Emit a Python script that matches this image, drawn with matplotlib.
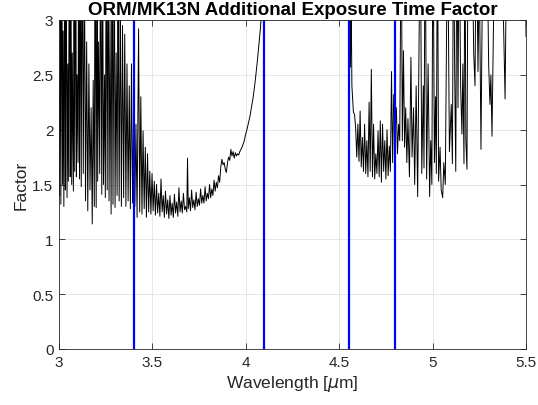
import matplotlib
matplotlib.use("Agg")
import matplotlib.pyplot as plt

# wavelength [um] and exposure time factor
wl_a = [3.000, 3.003, 3.007, 3.010, 3.015, 3.019, 3.022, 3.026, 3.031, 3.034,
        3.038, 3.043, 3.047, 3.050, 3.056, 3.060, 3.063, 3.068, 3.071, 3.077,
        3.081, 3.084, 3.090, 3.093, 3.097, 3.102, 3.105, 3.110, 3.114, 3.119,
        3.124, 3.130, 3.136, 3.142, 3.148, 3.154, 3.160, 3.166, 3.172, 3.178,
        3.183, 3.189, 3.193, 3.199, 3.204, 3.207, 3.212, 3.218, 3.222, 3.229,
        3.233, 3.238, 3.244, 3.248, 3.253, 3.258, 3.263, 3.268, 3.273, 3.279,
        3.284, 3.289, 3.296, 3.300, 3.306, 3.311, 3.316, 3.322, 3.328, 3.334,
        3.340, 3.346, 3.352, 3.358, 3.364, 3.370, 3.376, 3.382, 3.388, 3.394,
        3.400, 3.406, 3.412, 3.418, 3.426, 3.432, 3.438, 3.444, 3.450, 3.456,
        3.462, 3.468, 3.474, 3.480, 3.486, 3.492, 3.498, 3.504, 3.510, 3.516]
fac_a = [2.45, 1.40, 4.0, 1.32, 4.0, 1.50, 2.90, 1.30, 4.0, 1.45,
         4.0, 1.38, 2.60, 1.53, 4.0, 1.57, 4.0, 1.50, 2.70, 1.44,
         4.0, 1.62, 4.0, 1.57, 2.50, 1.70, 4.0, 1.55, 4.0, 1.48,
         4.0, 1.60, 3.6, 1.35, 2.8, 1.26, 2.6, 1.45, 2.2, 1.14,
         2.45, 1.30, 4.0, 1.29, 4.0, 1.53, 2.80, 1.60, 4.0, 1.41,
         4.0, 1.50, 2.50, 1.38, 4.0, 1.45, 4.0, 1.35, 3.0, 1.23,
         4.0, 1.32, 4.0, 1.29, 2.70, 1.40, 3.5, 1.35, 3.2, 1.30,
         2.95, 1.38, 2.87, 1.30, 2.60, 1.35, 2.40, 1.28, 2.60, 1.33,
         2.20, 1.30, 2.05, 1.20, 2.92, 1.25, 2.30, 1.23, 1.99, 1.28,
         1.84, 1.20, 1.78, 1.25, 1.62, 1.23, 1.60, 1.26, 1.53, 1.22]

wl_b = [3.522, 3.528, 3.534, 3.540, 3.546, 3.552, 3.558, 3.564, 3.570, 3.576,
        3.582, 3.588, 3.594, 3.600, 3.606, 3.612, 3.618, 3.624, 3.630, 3.636,
        3.642, 3.648, 3.654, 3.660, 3.666, 3.672, 3.678, 3.684, 3.688, 3.692,
        3.698, 3.704, 3.710, 3.716, 3.722, 3.728, 3.734, 3.740, 3.746, 3.752,
        3.758, 3.764, 3.770, 3.776, 3.782, 3.788, 3.794, 3.800, 3.806, 3.812,
        3.818, 3.824, 3.830, 3.836, 3.842, 3.848]
fac_b = [1.50, 1.24, 1.42, 1.21, 1.55, 1.25, 1.40, 1.20, 1.44, 1.23,
         1.36, 1.19, 1.40, 1.22, 1.33, 1.20, 1.41, 1.24, 1.34, 1.21,
         1.47, 1.25, 1.35, 1.24, 1.42, 1.27, 1.30, 1.25, 1.74, 1.28,
         1.38, 1.26, 1.45, 1.29, 1.36, 1.27, 1.43, 1.30, 1.37, 1.31,
         1.46, 1.33, 1.40, 1.33, 1.48, 1.35, 1.42, 1.37, 1.50, 1.38,
         1.46, 1.40, 1.54, 1.44, 1.52, 1.47]

wl_c = [3.854, 3.860, 3.866, 3.872, 3.878, 3.884, 3.890, 3.896, 3.902, 3.908,
        3.914, 3.920, 3.926, 3.932, 3.938, 3.944, 3.950, 3.956, 3.962, 3.968,
        3.974, 3.980, 3.986, 3.992, 3.998, 4.006, 4.014, 4.022, 4.030, 4.038,
        4.046, 4.054, 4.062, 4.070, 4.078, 4.086, 4.094, 4.100, 4.200, 4.300,
        4.400, 4.500, 4.540]
fac_c = [1.58, 1.52, 1.66, 1.73, 1.68, 1.70, 1.64, 1.61, 1.70, 1.75,
         1.72, 1.82, 1.76, 1.80, 1.74, 1.79, 1.76, 1.78, 1.77, 1.80,
         1.82, 1.84, 1.87, 1.90, 1.95, 2.00, 2.06, 2.12, 2.20, 2.28,
         2.38, 2.50, 2.63, 2.78, 2.92, 3.10, 3.40, 3.80, 5.0, 6.0,
         6.0, 5.0, 4.0]

wl_d = [4.548, 4.552, 4.556, 4.560, 4.564, 4.568, 4.576, 4.582, 4.588, 4.594,
        4.600, 4.606, 4.612, 4.618, 4.624, 4.630, 4.636, 4.642, 4.648, 4.654,
        4.660, 4.666, 4.672, 4.678, 4.684, 4.690, 4.696, 4.702, 4.708, 4.714,
        4.720, 4.726, 4.732, 4.738, 4.744, 4.750, 4.756, 4.762, 4.768, 4.774,
        4.780, 4.786, 4.792]
fac_d = [4.5, 2.85, 3.5, 2.57, 3.2, 2.40, 2.16, 2.14, 2.02, 1.75,
         2.05, 1.71, 2.17, 1.66, 1.93, 1.62, 2.05, 1.60, 1.90, 1.57,
         2.25, 1.62, 2.55, 1.57, 2.05, 1.55, 1.78, 1.60, 1.99, 1.57,
         2.08, 1.52, 2.05, 1.62, 1.90, 1.55, 2.00, 1.58, 1.85, 1.62,
         2.53, 1.70, 2.32]

wl_e = [4.800, 4.806, 4.812, 4.818, 4.824, 4.832, 4.838, 4.844, 4.850, 4.856,
        4.862, 4.868, 4.876, 4.884, 4.890, 4.898, 4.904, 4.912, 4.920, 4.934,
        4.942, 4.950, 4.954, 4.960, 4.968, 4.976, 4.984, 4.990, 4.996, 5.002,
        5.010, 5.016, 5.020, 5.026, 5.032, 5.040, 5.046, 5.054, 5.060, 5.068,
        5.080, 5.090, 5.100, 5.106, 5.112, 5.118, 5.124, 5.130, 5.136, 5.142,
        5.150, 5.157, 5.162, 5.168, 5.173, 5.178, 5.184, 5.190, 5.200, 5.210,
        5.220, 5.227, 5.234, 5.243, 5.250, 5.259, 5.270, 5.280, 5.290, 5.300,
        5.307, 5.312, 5.318, 5.334, 5.350, 5.365, 5.377, 5.388, 5.398, 5.420,
        5.440, 5.460, 5.480, 5.495, 5.500]
fac_e = [2.00, 2.20, 1.78, 2.05, 1.90, 4.0, 1.90, 2.72, 1.84, 2.20,
         1.70, 2.10, 1.57, 2.66, 1.75, 2.20, 1.50, 2.40, 1.39, 4.0,
         1.60, 2.40, 1.65, 4.0, 1.55, 2.60, 1.39, 1.90, 1.50, 4.0,
         1.70, 2.30, 1.60, 4.0, 1.53, 1.84, 1.45, 1.38, 1.70, 1.50,
         4.0, 1.80, 2.23, 1.69, 4.0, 2.57, 1.62, 4.0, 2.20, 4.0,
         2.40, 1.96, 2.60, 1.69, 4.0, 1.90, 1.64, 4.0, 3.2, 4.0,
         2.70, 2.40, 4.0, 2.53, 3.5, 1.82, 4.0, 3.3, 4.0, 2.60,
         2.23, 2.50, 1.94, 4.0, 3.4, 4.0, 3.2, 2.28, 4.0, 4.5,
         3.6, 4.5, 3.8, 4.0, 2.85]

wavelength = wl_a + wl_b + wl_c + wl_d + wl_e
factor = fac_a + fac_b + fac_c + fac_d + fac_e

# band edges marked in blue
band_edges = [3.4, 4.1, 4.55, 4.8]

plt.rcParams['font.family'] = ['Liberation Sans', 'DejaVu Sans']

fig = plt.figure(figsize=(5.38, 4.06), dpi=100)
ax = fig.add_axes([59 / 538, 56 / 406, 467 / 538, 329 / 406])

ax.plot(wavelength, factor, color='black', lw=0.7)
for x in band_edges:
    ax.axvline(x, color='blue', lw=1.6)

ax.set_xlim(3, 5.5)
ax.set_ylim(0, 3)
ax.set_xticks([3, 3.5, 4, 4.5, 5, 5.5])
ax.set_xticklabels(['3', '3.5', '4', '4.5', '5', '5.5'])
ax.set_yticks([0, 0.5, 1, 1.5, 2, 2.5, 3])
ax.set_yticklabels(['0', '0.5', '1', '1.5', '2', '2.5', '3'])
ax.grid(True, color='#e3e3e3', lw=0.6)
ax.set_axisbelow(True)
ax.tick_params(direction='in', length=4, width=0.6, top=True, right=True,
               labelsize=11, colors='#262626', pad=4)
for s in ax.spines.values():
    s.set_color('#262626')
    s.set_linewidth(0.6)

ax.set_xlabel(r'Wavelength [$\mu$m]', fontsize=12.5, color='#262626', labelpad=3)
ax.set_ylabel('Factor', fontsize=12.5, color='#262626', labelpad=3)
ax.set_title('ORM/MK13N Additional Exposure Time Factor', fontsize=13.5,
             fontweight='bold', pad=4)

fig.savefig('out.png', dpi=100)
